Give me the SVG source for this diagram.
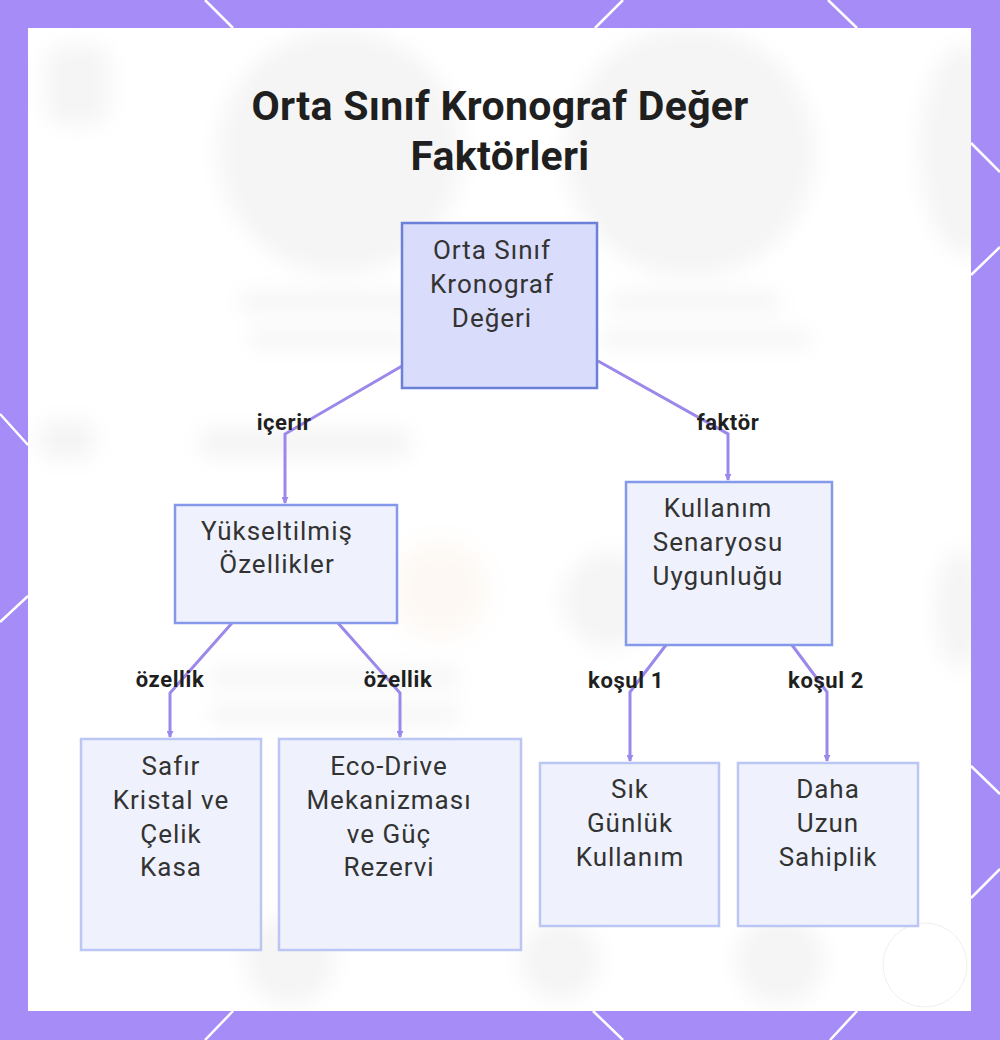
<svg xmlns="http://www.w3.org/2000/svg" width="1000" height="1040" viewBox="0 0 1000 1040">
  <defs>
    <style>
      .title { font-family: Roboto, "Liberation Sans", sans-serif; font-weight: 700; font-size: 41px; fill: #1f1f1f; text-anchor: middle; letter-spacing: 0.3px; }
      .ntext { font-family: Roboto, "Liberation Sans", sans-serif; font-size: 26px; fill: #333333; text-anchor: middle; letter-spacing: 1px; }
      .elabel { font-family: Roboto, "Liberation Sans", sans-serif; font-weight: 700; font-size: 22px; fill: #1f1f1f; text-anchor: middle; letter-spacing: 0.6px; }
      .root { fill: #d9dcfa; stroke: #6b80d8; stroke-width: 2.5; }
      .mid { fill: #eff2fd; stroke: #8499ea; stroke-width: 2.5; }
      .leaf { fill: #eff2fd; stroke: #bcc6f4; stroke-width: 2.5; }
      .edge { fill: none; stroke: #9c87ea; stroke-width: 3; stroke-linejoin: miter; }
      .deco { stroke: #ffffff; stroke-width: 2.5; fill: none; }
      .blob { fill: #000000; fill-opacity: 0.04; }
    </style>
    <marker id="arrow" viewBox="0 0 8 8" refX="7" refY="4" markerWidth="7" markerHeight="7" markerUnits="userSpaceOnUse" orient="auto">
      <path d="M0,0 L8,4 L0,8 z" fill="#9c87ea"/>
    </marker>
    <filter id="blur" x="-50%" y="-50%" width="200%" height="200%">
      <feGaussianBlur stdDeviation="10"/>
    </filter>
    <clipPath id="inner">
      <rect x="28" y="28" width="943" height="983"/>
    </clipPath>
  </defs>

  <!-- frame -->
  <rect x="0" y="0" width="1000" height="1040" fill="#a68cf6"/>
  <g class="deco">
    <line x1="205" y1="0" x2="233" y2="28"/>
    <line x1="623" y1="0" x2="595" y2="28"/>
    <line x1="828" y1="0" x2="857" y2="28"/>
    <line x1="971" y1="143" x2="1000" y2="172"/>
    <line x1="1000" y1="247" x2="971" y2="275"/>
    <line x1="971" y1="766" x2="1000" y2="794"/>
    <line x1="1000" y1="869" x2="971" y2="898"/>
    <line x1="233" y1="1011" x2="205" y2="1040"/>
    <line x1="593" y1="1011" x2="623" y2="1040"/>
    <line x1="857" y1="1011" x2="830" y2="1040"/>
    <line x1="0" y1="414" x2="28" y2="445"/>
    <line x1="28" y1="596" x2="0" y2="622"/>
  </g>
  <rect x="28" y="28" width="943" height="983" fill="#ffffff"/>

  <!-- faint blurred background -->
  <g clip-path="url(#inner)">
    <g filter="url(#blur)">
      <circle class="blob" cx="340" cy="152" r="122"/>
      <circle class="blob" cx="690" cy="152" r="125"/>
      <ellipse class="blob" cx="965" cy="150" rx="45" ry="105"/>
      <rect class="blob" x="45" y="45" width="65" height="80" rx="20"/>
      <rect class="blob" x="240" y="292" width="180" height="20" rx="8"/>
      <rect class="blob" x="250" y="330" width="160" height="18" rx="8"/>
      <rect class="blob" x="610" y="292" width="170" height="20" rx="8"/>
      <rect class="blob" x="600" y="330" width="210" height="18" rx="8"/>
      <rect class="blob" x="200" y="428" width="210" height="30" rx="8"/>
      <rect class="blob" x="40" y="420" width="55" height="40" rx="10"/>
      <circle cx="440" cy="590" r="48" fill="#e8a070" fill-opacity="0.08"/>
      <circle class="blob" cx="610" cy="600" r="48"/>
      <ellipse class="blob" cx="960" cy="610" rx="25" ry="60"/>
      <rect class="blob" x="210" y="668" width="250" height="18" rx="8"/>
      <rect class="blob" x="210" y="705" width="250" height="18" rx="8"/>
      <circle class="blob" cx="290" cy="960" r="45"/>
      <circle class="blob" cx="560" cy="960" r="40"/>
      <circle class="blob" cx="780" cy="960" r="45"/>
    </g>
  </g>
  <circle cx="925" cy="965" r="42" fill="none" stroke="#efefef" stroke-width="1"/>

  <!-- title -->
  <text class="title" x="500" y="120">Orta Sınıf Kronograf Değer</text>
  <text class="title" x="500" y="170">Faktörleri</text>

  <!-- connectors -->
  <g id="connectors">
    <path class="edge" d="M402,366 L285,434 L285,503" marker-end="url(#arrow)"/>
    <path class="edge" d="M598,361 L728,434 L728,480" marker-end="url(#arrow)"/>
    <path class="edge" d="M232,623 L170,693 L170,737" marker-end="url(#arrow)"/>
    <path class="edge" d="M338,623 L400,693 L400,737" marker-end="url(#arrow)"/>
    <path class="edge" d="M666,645 L630,692 L630,761" marker-end="url(#arrow)"/>
    <path class="edge" d="M792,645 L827,692 L827,761" marker-end="url(#arrow)"/>
    <text class="elabel" x="284" y="430">içerir</text>
    <text class="elabel" x="728" y="430">faktör</text>
    <text class="elabel" x="170" y="687">özellik</text>
    <text class="elabel" x="398" y="687">özellik</text>
    <text class="elabel" x="626" y="688">koşul 1</text>
    <text class="elabel" x="826" y="688">koşul 2</text>
  </g>

  <!-- nodes -->
  <g id="node-root">
    <rect class="root" x="402" y="223" width="195" height="165"/>
    <text class="ntext" x="492" y="259">Orta Sınıf</text>
    <text class="ntext" x="492" y="293">Kronograf</text>
    <text class="ntext" x="492" y="327">Değeri</text>
  </g>
  <g id="node-yukseltilmis">
    <rect class="mid" x="175" y="505" width="222" height="118"/>
    <text class="ntext" x="277" y="540">Yükseltilmiş</text>
    <text class="ntext" x="277" y="573">Özellikler</text>
  </g>
  <g id="node-kullanim">
    <rect class="mid" x="626" y="482" width="206" height="163"/>
    <text class="ntext" x="718" y="517">Kullanım</text>
    <text class="ntext" x="718" y="551">Senaryosu</text>
    <text class="ntext" x="718" y="585">Uygunluğu</text>
  </g>
  <g id="node-safir">
    <rect class="leaf" x="81" y="739" width="180" height="211"/>
    <text class="ntext" x="171" y="775">Safır</text>
    <text class="ntext" x="171" y="809">Kristal ve</text>
    <text class="ntext" x="171" y="843">Çelik</text>
    <text class="ntext" x="171" y="876">Kasa</text>
  </g>
  <g id="node-ecodrive">
    <rect class="leaf" x="279" y="739" width="242" height="211"/>
    <text class="ntext" x="389" y="775">Eco-Drive</text>
    <text class="ntext" x="389" y="809">Mekanizması</text>
    <text class="ntext" x="389" y="843">ve Güç</text>
    <text class="ntext" x="389" y="876">Rezervi</text>
  </g>
  <g id="node-sik">
    <rect class="leaf" x="540" y="763" width="179" height="163"/>
    <text class="ntext" x="630" y="798">Sık</text>
    <text class="ntext" x="630" y="832">Günlük</text>
    <text class="ntext" x="630" y="866">Kullanım</text>
  </g>
  <g id="node-daha">
    <rect class="leaf" x="738" y="763" width="180" height="163"/>
    <text class="ntext" x="828" y="798">Daha</text>
    <text class="ntext" x="828" y="832">Uzun</text>
    <text class="ntext" x="828" y="866">Sahiplik</text>
  </g>
</svg>
